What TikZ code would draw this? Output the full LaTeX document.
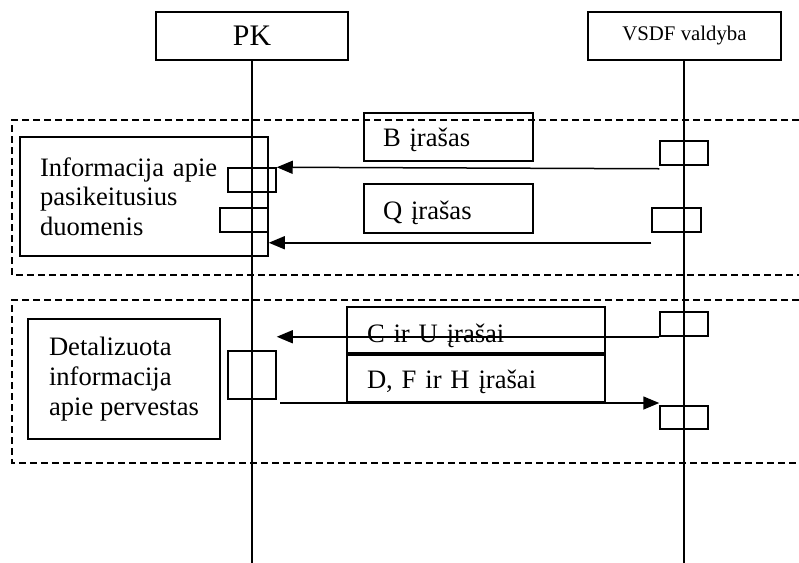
\documentclass[tikz,border=0pt]{standalone}
\usepackage{fontspec}
\setmainfont{Liberation Serif}
\usetikzlibrary{arrows.meta}

\begin{document}
\begin{tikzpicture}[x=0.5pt, y=-0.5pt,
box/.style={draw, line width=0.75pt, inner sep=0pt, font=\fontsize{13.3pt}{14.8pt}\selectfont},
actor/.style={box, minimum height=24pt},
act/.style={draw, line width=0.75pt, inner sep=0pt, minimum width=24pt, minimum height=12pt},
rec/.style={box, align=left, inner xsep=9.5pt, text height=9pt, text depth=0pt},
note/.style={box, align=left},
msg/.style={line width=0.75pt, -{Triangle[length=8pt, width=6.5pt]}},
grp/.style={line width=0.75pt, dash pattern=on 3.5pt off 2pt}
]
    \useasboundingbox (0,0) rectangle (799,563);

    % lifelines
    \node [actor, minimum width=96pt, font=\fontsize{14.9pt}{16pt}\selectfont] (pk) at (252,36) {PK};
    \node [actor, minimum width=96.5pt, font=\fontsize{10.4pt}{12pt}\selectfont] (vsdf) at (684.5,36) {VSDF valdyba};
    \coordinate (pkend) at (252,563);
    \coordinate (vsdfend) at (684,563);
    \draw [line width=0.75pt] (pk.south) -- (pkend);
    \draw [line width=0.75pt] (vsdf.south -| vsdfend) -- (vsdfend);

    % group frames
    \draw [grp] (799,120) -| (12,275) -- (799,275);
    \draw [grp] (799,300) -| (12,463) -- (799,463);

    % first group
    \node [note, minimum width=124pt, minimum height=59.5pt, text width=104pt] (info) at (144,196.5)
        {Informacija apie\\pasikeitusius\\duomenis};
    \node [rec, minimum width=84.5pt, minimum height=24pt, text width=65.5pt] (rb) at (448.5,137) {B įrašas};
    \node [rec, minimum width=84.5pt, minimum height=24.5pt, text width=65.5pt, text height=10.5pt] (rq) at (448.5,208.5) {Q įrašas};

    \node [act] (a1) at (252,180) {};
    \node [act] (a2) at (244,220) {};
    \node [act] (b1) at (684,153) {};
    \node [act, minimum width=24.5pt] (b2) at (676.5,220) {};

    \draw [msg] ([yshift=-1.5pt]b1.south west) -- (a1.north east);
    \draw [msg] ([yshift=-5pt]b2.south west) -- ([yshift=-5pt]a2.south east);

    % second group
    \node [note, minimum width=96pt, minimum height=60pt, inner xsep=10.5pt] (detail) at (124,379)
        {Detalizuota\\informacija\\apie pervestas};
    \node [rec, minimum width=129pt, minimum height=23pt, text width=109pt, inner xsep=10pt, text height=12pt] (rc) at (476,330) {C ir U įrašai};
    \node [rec, minimum width=129pt, minimum height=23.5pt, text width=109pt, inner xsep=10pt, text height=9.5pt] (rd) at (476,378.5) {D, F ir H įrašai};

    \node [act, minimum height=24pt] (a3) at (252,375) {};
    \node [act] (c1) at (684,324) {};
    \node [act, minimum height=11.5pt] (d1) at (684,417.5) {};
    \coordinate (dstart) at (280,403);

    \draw [msg] (c1.south west) -- (a3.east |- c1.south west);
    \draw [msg] (dstart) -- (dstart -| d1.west);

\end{tikzpicture}
\end{document}
